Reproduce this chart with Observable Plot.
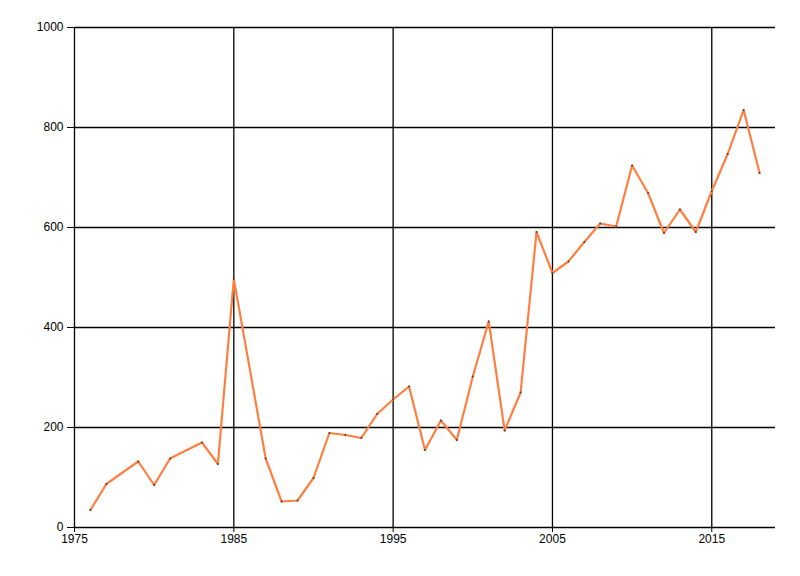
<!DOCTYPE html>
<html>
<head>
<meta charset="utf-8">
<script src="https://cdn.jsdelivr.net/npm/d3@7"></script>
<script src="https://cdn.jsdelivr.net/npm/@observablehq/plot@0.6"></script>
<style>
  body { margin: 0; background: #fff; }
  #chart svg { display: block; font-family: "Liberation Sans", Arial, sans-serif; }
</style>
</head>
<body>
<div id="chart"></div>
<script>
const years = [1976, 1977, 1979, 1980, 1981, 1983, 1984, 1985, 1987, 1988, 1989, 1990,
  1991, 1992, 1993, 1994, 1995, 1996, 1997, 1998, 1999, 2000, 2001, 2002, 2003, 2004,
  2005, 2006, 2007, 2008, 2009, 2010, 2011, 2012, 2013, 2014, 2015, 2016, 2017, 2018];
const values = [35, 87, 132, 85, 138, 170, 127, 497, 138, 52, 54, 99,
  189, 185, 179, 227, 256, 282, 155, 214, 175, 302, 412, 194, 270, 591,
  509, 532, 571, 608, 602, 724, 669, 589, 636, 591, 673, 747, 835, 709];
const xTicks = [1975, 1985, 1995, 2005, 2015];
const yTicks = [0, 200, 400, 600, 800, 1000];

const data = years.map((y, i) => ({year: y, value: values[i]}));

let chart = Plot.plot({
  width: 800,
  height: 576,
  marginLeft: 74,
  marginRight: 25,
  marginTop: 27,
  marginBottom: 49,
  style: {fontSize: "12px", color: "#000"},
  x: {domain: [1975, 2019], label: null},
  y: {domain: [0, 1000], label: null},
  marks: [
    Plot.ruleY(yTicks, {stroke: "#000", strokeWidth: 1.3}),
    Plot.ruleX(xTicks, {stroke: "#000", strokeWidth: 1.3}),
    Plot.axisX({ticks: xTicks, tickFormat: d => String(d), tickSize: 5, tickPadding: 2, stroke: "#000"}),
    Plot.axisY({ticks: yTicks, tickFormat: d => String(d), tickSize: 7, tickPadding: 4, stroke: "#000"}),
    Plot.line(data, {x: "year", y: "value", stroke: "#ff7f40", strokeWidth: 2.2}),
    Plot.dot(data, {x: "year", y: "value", r: 1, fill: "#444", stroke: null})
  ]
})

d3.select('#chart').append(() => chart)
</script>
</body>
</html>
